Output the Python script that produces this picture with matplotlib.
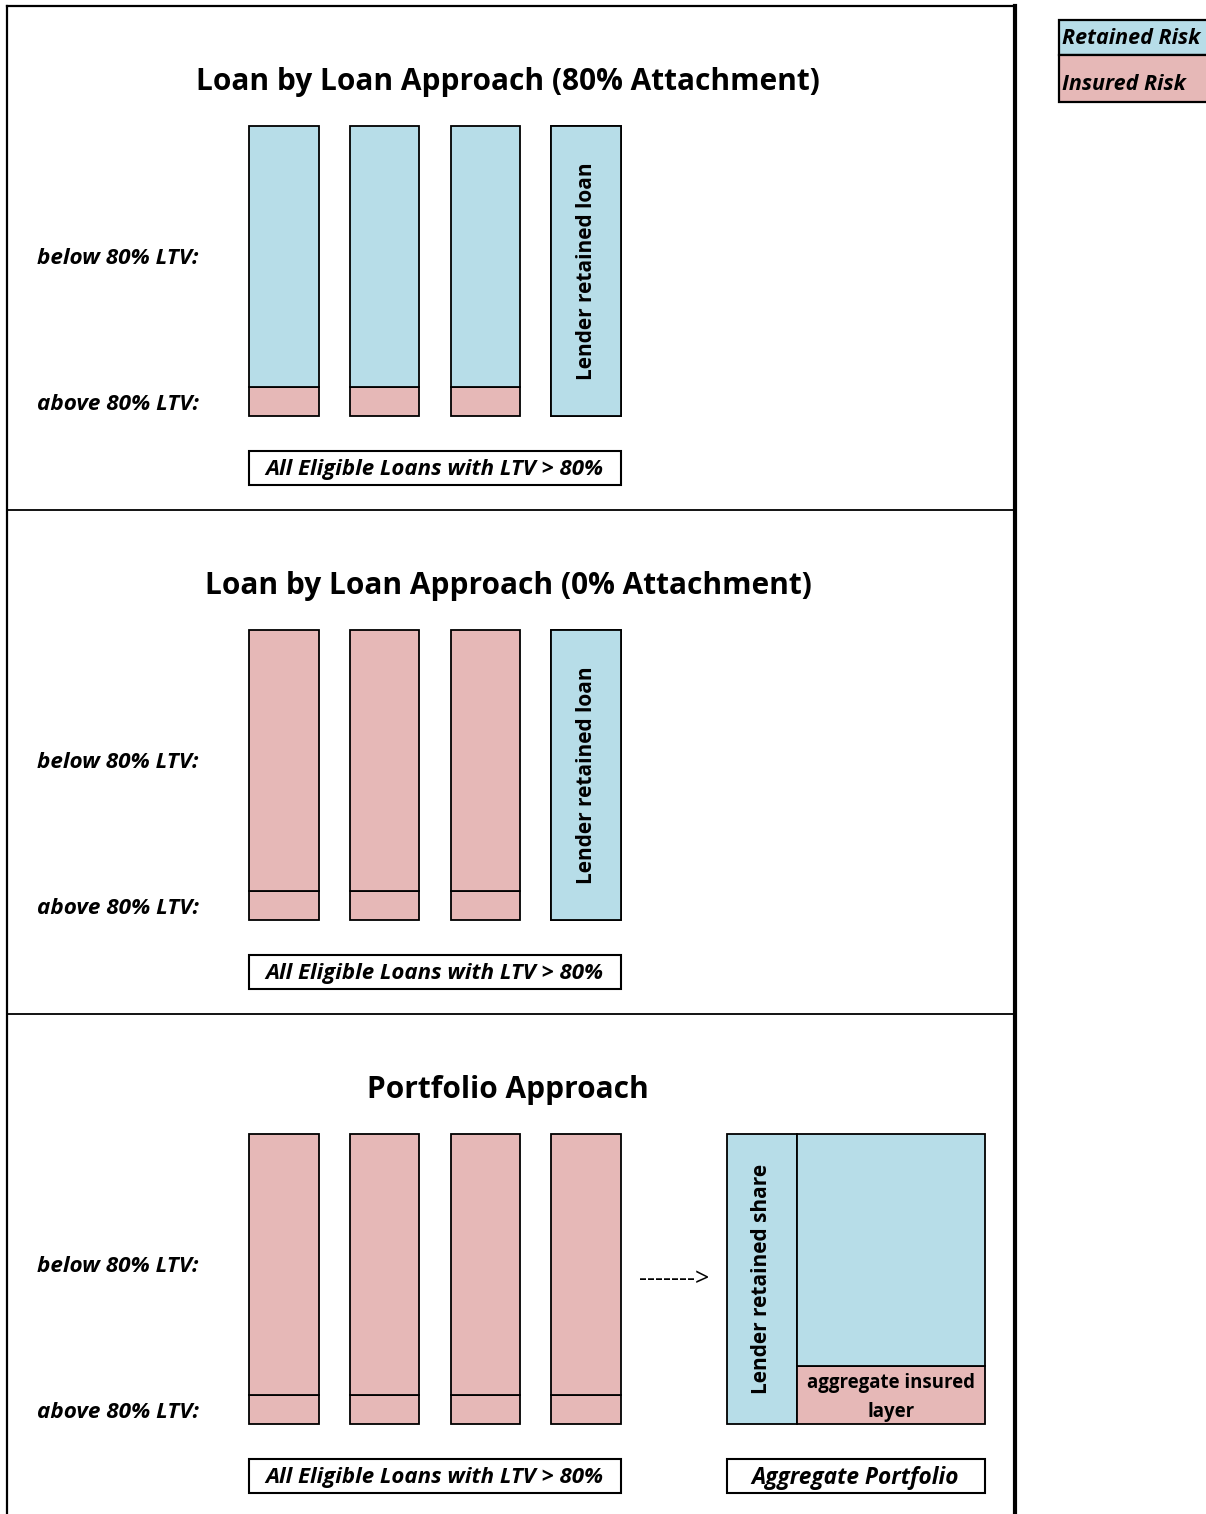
import numpy as np
import matplotlib
matplotlib.use("Agg")
from matplotlib import pyplot as plt
from matplotlib.patches import Rectangle

plt.rcParams['font.family'] = ['Open Sans', 'DejaVu Sans']

W, H = 1206, 1514
BLUE = '#B7DDE8'
PINK = '#E6B8B7'

# data
titles = ["Loan by Loan Approach (80% Attachment)",
          "Loan by Loan Approach (0% Attachment)",
          "Portfolio Approach"]
loans = [0, 1, 2, 3]
above_share = 0.10          # part of each loan above 80% LTV
# colour of the lower / upper part per loan, per panel
lower_risk = [["I", "I", "I", "R"], ["I", "I", "I", "R"], ["I", "I", "I", "I"]]
upper_risk = [["R", "R", "R", "R"], ["I", "I", "I", "R"], ["I", "I", "I", "I"]]
retained_label = ["Lender retained loan", "Lender retained loan", None]
agg_retained_width = 0.27   # lender retained share of aggregate portfolio
agg_insured_height = 0.20   # aggregate insured layer
legend_items = ["Retained Risk", "Insured Risk"]
colors = {"R": BLUE, "I": PINK}


def fig_box(x0, y0, x1, y1):
    return [x0 / W, 1 - y1 / H, (x1 - x0) / W, (y1 - y0) / H]


fig = plt.figure(figsize=(W / 100, H / 100), dpi=100, facecolor='w')
bg = fig.add_axes([0, 0, 1, 1])
bg.set_xlim(0, W)
bg.set_ylim(H, 0)
bg.axis('off')

# frame
bg.plot([7, 7], [6, H], color='k', lw=1.6)
bg.plot([7, 1015], [6, 6], color='k', lw=1.6)
bg.plot([1015, 1015], [6, H], color='k', lw=3)
for yy in [510, 1014]:
    bg.plot([7, 1015], [yy, yy], color='k', lw=1.3)

# legend
for i, name in enumerate(legend_items):
    y0 = [20, 55][i]
    y1 = [55, 102][i]
    bg.add_patch(Rectangle((1059, y0), 160, y1 - y0, facecolor=[BLUE, PINK][i],
                           edgecolor='k', lw=1.6, clip_on=True))
    bg.text(1062, [39, 84][i], name, fontsize=15.5, fontweight='bold',
            style='italic', va='center', ha='left')

text_kw = dict(fontweight='bold', style='italic')
for p in range(3):
    off = 504 * p
    bg.text(508, 82 + off, titles[p], fontsize=21.5, fontweight='bold',
            ha='center', va='center')
    bg.text(37, 259 + off, "below 80% LTV:", fontsize=16.2, ha='left',
            va='center', **text_kw)
    bg.text(37, 404 + off, "above 80% LTV:", fontsize=16.2, ha='left',
            va='center', **text_kw)
    bg.add_patch(Rectangle((249, 451 + off), 372, 34, facecolor='w',
                           edgecolor='k', lw=1.5))
    bg.text(434, 470 + off, "All Eligible Loans with LTV > 80%", fontsize=16,
            ha='center', va='center', **text_kw)

    ax = fig.add_axes(fig_box(249, 126 + off, 621, 416 + off))
    ax.set_xlim(-0.345, 3.345)
    ax.set_ylim(0, 1)
    ax.axis('off')
    lc = [colors[c] for c in lower_risk[p]]
    uc = [colors[c] for c in upper_risk[p]]
    ax.bar(loans, above_share, width=0.69, color=lc, edgecolor='k', lw=1.3,
           align='center', clip_on=False)
    ax.bar(loans, 1 - above_share, bottom=above_share, width=0.69, color=uc,
           edgecolor='k', lw=1.3, clip_on=False)
    # a retained loan shows as one block
    for i in loans:
        if lower_risk[p][i] == "R" and upper_risk[p][i] == "R":
            ax.bar(i, 1, width=0.69, color=BLUE, edgecolor='k', lw=1.3,
                   clip_on=False)
    if retained_label[p]:
        ax.text(3, 0.5, retained_label[p], rotation=90, fontsize=15,
                fontweight='bold', ha='center', va='center')

# aggregate portfolio
bg.text(674, 1280, "------->", fontsize=18, ha='center', va='center')
ag = fig.add_axes(fig_box(727, 1134, 985, 1424))
ag.set_xlim(0, 1)
ag.set_ylim(0, 1)
ag.axis('off')
ag.bar(0, 1, width=agg_retained_width, align='edge', color=BLUE,
       edgecolor='k', lw=1.3, clip_on=False)
ag.bar(agg_retained_width, agg_insured_height, width=1 - agg_retained_width,
       align='edge', color=PINK, edgecolor='k', lw=1.3, clip_on=False)
ag.bar(agg_retained_width, 1 - agg_insured_height, bottom=agg_insured_height,
       width=1 - agg_retained_width, align='edge', color=BLUE, edgecolor='k',
       lw=1.3, clip_on=False)
ag.text(agg_retained_width / 2, 0.5, "Lender retained share", rotation=90,
        fontsize=15, fontweight='bold', ha='center', va='center')
ag.text((1 + agg_retained_width) / 2, agg_insured_height / 2 - 0.01,
        "aggregate insured\nlayer", fontsize=13.4, fontweight='bold',
        ha='center', va='center', linespacing=1.6)
bg.add_patch(Rectangle((727, 1459), 258, 34, facecolor='w', edgecolor='k',
                       lw=1.5))
bg.text(855, 1478, "Aggregate Portfolio", fontsize=16.3, ha='center',
        va='center', **text_kw)

fig.savefig('out.png', dpi=100, facecolor='w')
